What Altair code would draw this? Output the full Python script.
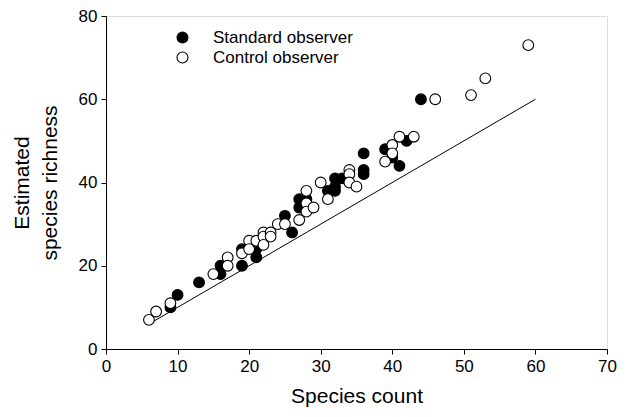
import altair as alt
import pandas as pd

# Standard observer (filled)
std_x = [9, 10, 13, 16, 16, 19, 19, 21, 21, 25, 26, 27, 27, 28, 31, 32, 32, 32, 33, 36, 36, 36, 39, 40, 41, 42, 44]
std_y = [10, 13, 16, 20, 18, 24, 20, 24, 22, 32, 28, 36, 34, 36, 38, 41, 39, 38, 41, 47, 43, 42, 48, 46, 44, 50, 60]

# Control observer (open)
ctl_x = [6, 7, 9, 15, 17, 17, 19, 20, 20, 21, 22, 22, 22, 23, 23, 24, 25, 27, 28, 28, 28, 29, 30, 31, 34, 34, 34, 35, 39, 40, 40, 41, 43, 46, 51, 53, 59]
ctl_y = [7, 9, 11, 18, 22, 20, 23, 26, 24, 26, 28, 27, 25, 28, 27, 30, 30, 31, 38, 35, 33, 34, 40, 36, 43, 42, 40, 39, 45, 49, 47, 51, 51, 60, 61, 65, 73]

line_x = [6, 60]
line_y = [6, 60]

groups = ["Standard observer", "Control observer"]

pts = pd.DataFrame({
    "x": std_x + ctl_x,
    "y": std_y + ctl_y,
    "group": [groups[0]] * len(std_x) + [groups[1]] * len(ctl_x),
    "order": [0] * len(std_x) + [1] * len(ctl_x),
})
ln = pd.DataFrame({"x": line_x, "y": line_y})

FONT = "Liberation Sans"

xscale = alt.Scale(domain=[0, 70], nice=False, zero=True)
yscale = alt.Scale(domain=[0, 80], nice=False, zero=True)

xaxis = alt.Axis(
    title="Species count", values=list(range(0, 71, 10)), grid=False,
    domainColor="black", tickColor="black", tickSize=5, labelFontSize=17,
    labelColor="black", titleFontSize=21, titleFontWeight="normal",
    titleColor="black", labelFont=FONT, titleFont=FONT, labelPadding=4,
    titlePadding=11, labelFlush=False,
)
yaxis = alt.Axis(
    title=["Estimated", "species richness"], values=list(range(0, 81, 20)), grid=False,
    domainColor="black", tickColor="black", tickSize=5, labelFontSize=17,
    labelColor="black", titleFontSize=21, titleFontWeight="normal",
    titleColor="black", labelFont=FONT, titleFont=FONT, labelPadding=4,
    titlePadding=18, labelFlush=False, titleLineHeight=28,
)

points = alt.Chart(pts).mark_point(
    shape="circle", size=115, strokeWidth=1.1, opacity=1, filled=False,
).encode(
    x=alt.X("x:Q", scale=xscale, axis=xaxis),
    y=alt.Y("y:Q", scale=yscale, axis=yaxis),
    fill=alt.Fill(
        "group:N",
        scale=alt.Scale(domain=groups, range=["black", "white"]),
        legend=alt.Legend(
            title=None, orient="none", legendX=68, legendY=13,
            labelFontSize=17, labelFont=FONT, labelColor="black",
            symbolSize=120, symbolStrokeColor="black", symbolStrokeWidth=1.1,
            symbolType="circle", labelOffset=22, rowPadding=2,
            symbolFillColor="white",
        ),
    ),
    stroke=alt.value("black"),
    order=alt.Order("order:Q"),
)

line = alt.Chart(ln).mark_line(color="black", strokeWidth=1).encode(
    x=alt.X("x:Q", scale=xscale),
    y=alt.Y("y:Q", scale=yscale),
)

chart = alt.layer(line, points).properties(
    width=501, height=333,
    autosize=alt.AutoSizeParams(type="none"),
    padding={"left": 106, "top": 16, "right": 20, "bottom": 68},
).configure_view(stroke=None).configure(background="white")

chart.save("out.html", embed_options={"renderer": "svg", "actions": False})
